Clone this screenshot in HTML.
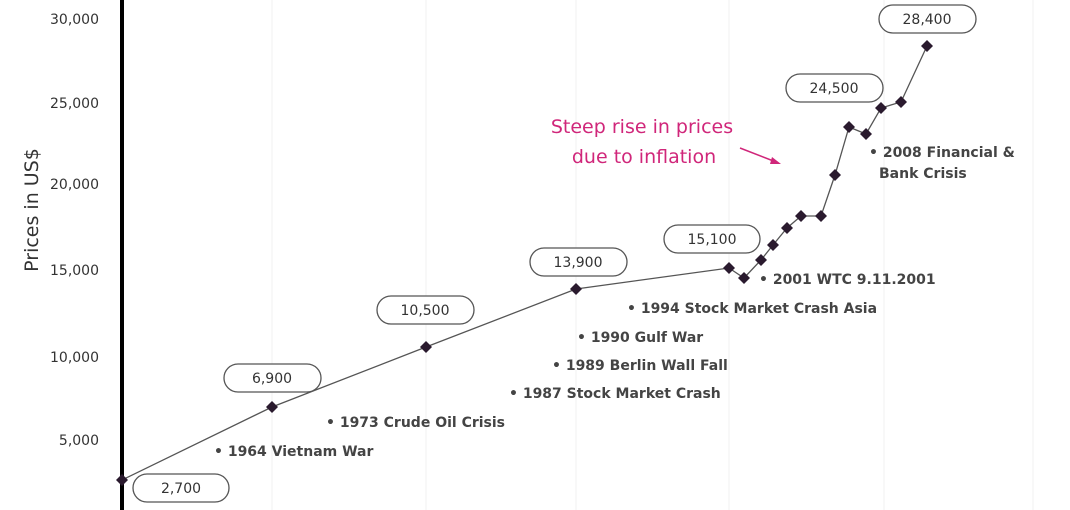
<!DOCTYPE html>
<html><head><style>
body{margin:0;background:#fff;}
svg{display:block;font-family:"DejaVu Sans","Liberation Sans",sans-serif;}
</style></head><body>
<svg width="1070" height="510" viewBox="0 0 1070 510">
<rect width="1070" height="510" fill="#fff"/>
<g stroke="#f2f2f2" stroke-width="1">
<line x1="272" y1="0" x2="272" y2="510"/><line x1="426" y1="0" x2="426" y2="510"/>
<line x1="576" y1="0" x2="576" y2="510"/><line x1="729" y1="0" x2="729" y2="510"/>
<line x1="884" y1="0" x2="884" y2="510"/><line x1="1033" y1="0" x2="1033" y2="510"/>
</g>
<line x1="122" y1="0" x2="122" y2="510" stroke="#000" stroke-width="4"/>
<g font-size="14" fill="#333" text-anchor="end">
<text x="99" y="24">30,000</text><text x="99" y="108">25,000</text>
<text x="99" y="189">20,000</text><text x="99" y="275">15,000</text>
<text x="99" y="362">10,000</text><text x="99" y="445">5,000</text>
</g>
<text transform="translate(38,210) rotate(-90)" text-anchor="middle" font-size="19" fill="#333">Prices in US$</text>
<polyline fill="none" stroke="#555" stroke-width="1.3" points="122,480 272,407 426,347 576,289 729,268 744,278 761,260 773,245 787,228 801,216 821,216 835,175 849,127 866,134 881,108 901,102 927,46"/>
<g fill="#2a1a2e">
<path d="M122,474l6,6-6,6-6-6z"/><path d="M272,401l6,6-6,6-6-6z"/><path d="M426,341l6,6-6,6-6-6z"/>
<path d="M576,283l6,6-6,6-6-6z"/><path d="M729,262l6,6-6,6-6-6z"/><path d="M744,272l6,6-6,6-6-6z"/>
<path d="M761,254l6,6-6,6-6-6z"/><path d="M773,239l6,6-6,6-6-6z"/><path d="M787,222l6,6-6,6-6-6z"/>
<path d="M801,210l6,6-6,6-6-6z"/><path d="M821,210l6,6-6,6-6-6z"/><path d="M835,169l6,6-6,6-6-6z"/>
<path d="M849,121l6,6-6,6-6-6z"/><path d="M866,128l6,6-6,6-6-6z"/><path d="M881,102l6,6-6,6-6-6z"/>
<path d="M901,96l6,6-6,6-6-6z"/><path d="M927,40l6,6-6,6-6-6z"/>
</g>
<g fill="#fff" stroke="#555" stroke-width="1.3">
<rect x="133" y="474" width="96" height="28" rx="14"/><rect x="224" y="364" width="97" height="28" rx="14"/>
<rect x="377" y="296" width="97" height="28" rx="14"/><rect x="530" y="248" width="97" height="28" rx="14"/>
<rect x="664" y="225" width="96" height="28" rx="14"/><rect x="786" y="74" width="97" height="28" rx="14"/>
<rect x="879" y="5" width="97" height="28" rx="14"/>
</g>
<g font-size="14" fill="#333" text-anchor="middle">
<text x="181" y="493">2,700</text><text x="272" y="383">6,900</text><text x="425" y="315">10,500</text>
<text x="578" y="267">13,900</text><text x="712" y="244">15,100</text><text x="834" y="93">24,500</text>
<text x="927" y="24">28,400</text>
</g>
<g font-size="14" font-weight="bold" fill="#444">
<text x="214" y="456">• 1964 Vietnam War</text>
<text x="326" y="427">• 1973 Crude Oil Crisis</text>
<text x="509" y="398">• 1987 Stock Market Crash</text>
<text x="552" y="370">• 1989 Berlin Wall Fall</text>
<text x="577" y="342">• 1990 Gulf War</text>
<text x="627" y="313">• 1994 Stock Market Crash Asia</text>
<text x="759" y="284">• 2001 WTC 9.11.2001</text>
<text x="869" y="157">• 2008 Financial &amp;</text>
<text x="879" y="178">Bank Crisis</text>
</g>
<g font-size="19" fill="#d0267a" text-anchor="middle">
<text x="642" y="133">Steep rise in prices</text>
<text x="644" y="163">due to inflation</text>
</g>
<line x1="740" y1="148" x2="776" y2="162" stroke="#d0267a" stroke-width="1.5"/>
<path d="M781,164l-9,-7 -2,7z" fill="#d0267a"/>
</svg>
</body></html>
